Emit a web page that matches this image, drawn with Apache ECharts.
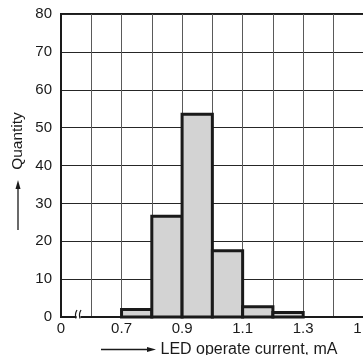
<!DOCTYPE html>
<html>
<head>
<meta charset="utf-8">
<script src="https://cdn.jsdelivr.net/npm/echarts@6/dist/echarts.min.js"></script>
<style>
html,body{margin:0;padding:0;background:#fff;}
#chart{width:363px;height:355px;}
</style>
</head>
<body>
<div id="chart"></div>
<script>
// Histogram bins (mA) and counts
const binStarts = [0.7, 0.8, 0.9, 1.0, 1.1, 1.2];
const binEnds   = [0.8, 0.9, 1.0, 1.1, 1.2, 1.3];
const quantities = [2, 26.6, 53.5, 17.5, 2.7, 1.2];

// Tick labels
const xLabelValues = [0.5, 0.7, 0.9, 1.1, 1.3, 1.5];
const xLabelTexts  = ['0', '0.7', '0.9', '1.1', '1.3', '1.5'];
const yTicks = [0, 10, 20, 30, 40, 50, 60, 70, 80];

const xTitle = 'LED operate current, mA';
const yTitle = 'Quantity';

const FONT = "'Liberation Sans', Arial, sans-serif";
const TXT = '#1a1a1a';

const data = binStarts.map((s, i) => [s, binEnds[i], quantities[i]]);

const chart = echarts.init(document.getElementById('chart'), null, {renderer: 'canvas'});

chart.setOption({
  animation: false,
  backgroundColor: '#fff',
  grid: {
    left: 61, top: 14, right: -31, bottom: 38,
    containLabel: false,
    outerBoundsMode: 'none',
    show: true,
    borderColor: '#1a1a1a',
    borderWidth: 2,
    backgroundColor: 'transparent'
  },
  xAxis: {
    type: 'value',
    min: 0.5, max: 1.6, interval: 0.1,
    axisLine: {show: true, lineStyle: {color: '#1a1a1a', width: 2}},
    axisTick: {show: false},
    splitLine: {show: true, lineStyle: {color: '#5a5a5a', width: 1}},
    axisLabel: {
      show: true, margin: 4, color: TXT, fontSize: 15, fontFamily: FONT,
      showMinLabel: true, showMaxLabel: true, hideOverlap: false,
      formatter: function (v) {
        for (let i = 0; i < xLabelValues.length; i++) {
          if (Math.abs(v - xLabelValues[i]) < 1e-6) return xLabelTexts[i];
        }
        return '';
      }
    }
  },
  yAxis: {
    type: 'value',
    min: yTicks[0], max: yTicks[yTicks.length - 1], interval: 10,
    axisLine: {show: true, lineStyle: {color: '#1a1a1a', width: 2}},
    axisTick: {show: false},
    splitLine: {show: true, lineStyle: {color: '#262626', width: 1}},
    axisLabel: {margin: 9, color: TXT, fontSize: 15, fontFamily: FONT}
  },
  series: [{
    type: 'custom',
    data: data,
    encode: {x: [0, 1], y: 2},
    renderItem: function (params, api) {
      const x0 = api.value(0), x1 = api.value(1), q = api.value(2);
      const pTop = api.coord([x0, q]);
      const pBot = api.coord([x1, 0]);
      return {
        type: 'rect',
        shape: {x: pTop[0], y: pTop[1], width: pBot[0] - pTop[0], height: pBot[1] - pTop[1]},
        style: {fill: '#d3d3d3', stroke: '#1a1a1a', lineWidth: 3}
      };
    },
    z: 3
  }],
  graphic: [
    // y-axis title with arrow
    {type: 'text', x: 18, y: 141, rotation: Math.PI / 2, z: 10,
     style: {text: yTitle, font: '15.5px ' + FONT, fill: TXT,
             align: 'center', verticalAlign: 'middle', textAlign: 'center', textVerticalAlign: 'middle'}},
    {type: 'line', z: 10, shape: {x1: 18, y1: 230, x2: 18, y2: 186}, style: {stroke: TXT, lineWidth: 1.3}},
    {type: 'polygon', z: 10, shape: {points: [[18, 180], [15.5, 189], [20.5, 189]]}, style: {fill: TXT}},
    // x-axis title with arrow
    {type: 'line', z: 10, shape: {x1: 101, y1: 349.5, x2: 150, y2: 349.5}, style: {stroke: TXT, lineWidth: 1.3}},
    {type: 'polygon', z: 10, shape: {points: [[156, 349.5], [147, 347], [147, 352]]}, style: {fill: TXT}},
    {type: 'text', x: 160.5, y: 349.5, z: 10,
     style: {text: xTitle, font: '16px ' + FONT, fill: TXT,
             align: 'left', verticalAlign: 'middle', textAlign: 'left', textVerticalAlign: 'middle'}},
    // axis break marks
    {type: 'rect', z: 10, shape: {x: 76.5, y: 314, width: 4, height: 5}, style: {fill: '#fff'}},
    {type: 'bezierCurve', z: 11, shape: {x1: 76, y1: 318.5, x2: 77, y2: 310, cpx1: 74.5, cpy1: 314}, style: {stroke: TXT, lineWidth: 1.2, fill: null}},
    {type: 'bezierCurve', z: 11, shape: {x1: 80, y1: 318.5, x2: 81, y2: 310, cpx1: 78.5, cpy1: 314}, style: {stroke: TXT, lineWidth: 1.2, fill: null}}
  ]
});
</script>
</body>
</html>
